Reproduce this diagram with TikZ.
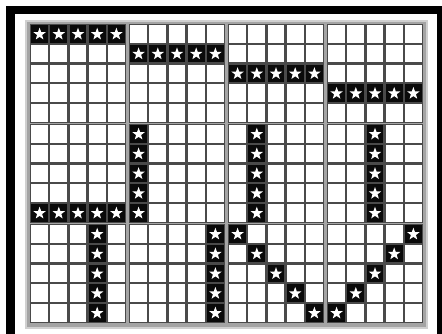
\documentclass[tikz,border=0pt]{standalone}
\usetikzlibrary{shapes.geometric}
\definecolor{framegray}{HTML}{A4A4A4}
\definecolor{rimgray}{HTML}{D0D0D0}
\definecolor{griddark}{HTML}{4A4A4A}
\definecolor{cellblack}{HTML}{0A0A0A}
\begin{document}
\begin{tikzpicture}[x=1pt,y=-1pt,
  starnode/.style={star,star points=5,star point ratio=2.45,fill=white,draw=none,inner sep=0pt,minimum size=13pt}]
\useasboundingbox (0,0) rectangle (442,333);
\fill[white] (0,0) rectangle (442,333);
\fill[black] (6,6) rectangle (460,350);
\fill[white] (15,14) rectangle (437,350);
\fill[rimgray] (24.5,19.5) rectangle (427.5,328.5);
\fill[framegray] (26.5,21.5) rectangle (425.5,326.5);
\foreach \i in {0,...,3} \foreach \j in {0,1,2} {
  \pgfmathsetmacro\px{31+99*\i}
  \pgfmathsetmacro\py{25+100*\j}
  \fill[griddark] (\px-1.2,\py-1.2) rectangle (\px+95.2,\py+98.2);
  \foreach \c in {0,...,4} \foreach \r in {0,...,4}
    \fill[white] (\px+0.2+19.2*\c,\py+0.2+19.75*\r) rectangle ++(16.8,17.35);
}
\foreach \k in {0,...,4}
 \foreach \i/\j/\cc/\rr in {0/0/\k/0,1/0/\k/1,2/0/\k/2,3/0/\k/3,0/1/\k/4,1/1/0/\k,2/1/1/\k,3/1/2/\k,0/2/3/\k,1/2/4/\k,2/2/\k/\k,3/2/4-\k/\k} {
  \pgfmathsetmacro\cx{31+99*\i+19.2*(\cc)}
  \pgfmathsetmacro\cy{25+100*\j+19.75*(\rr)}
  \fill[cellblack] (\cx+0.2,\cy+0.2) rectangle ++(16.8,17.35);
  \node[starnode] (s\i\j\k) at (\cx+8.6,\cy+9.2) {};
}
\end{tikzpicture}
\end{document}
